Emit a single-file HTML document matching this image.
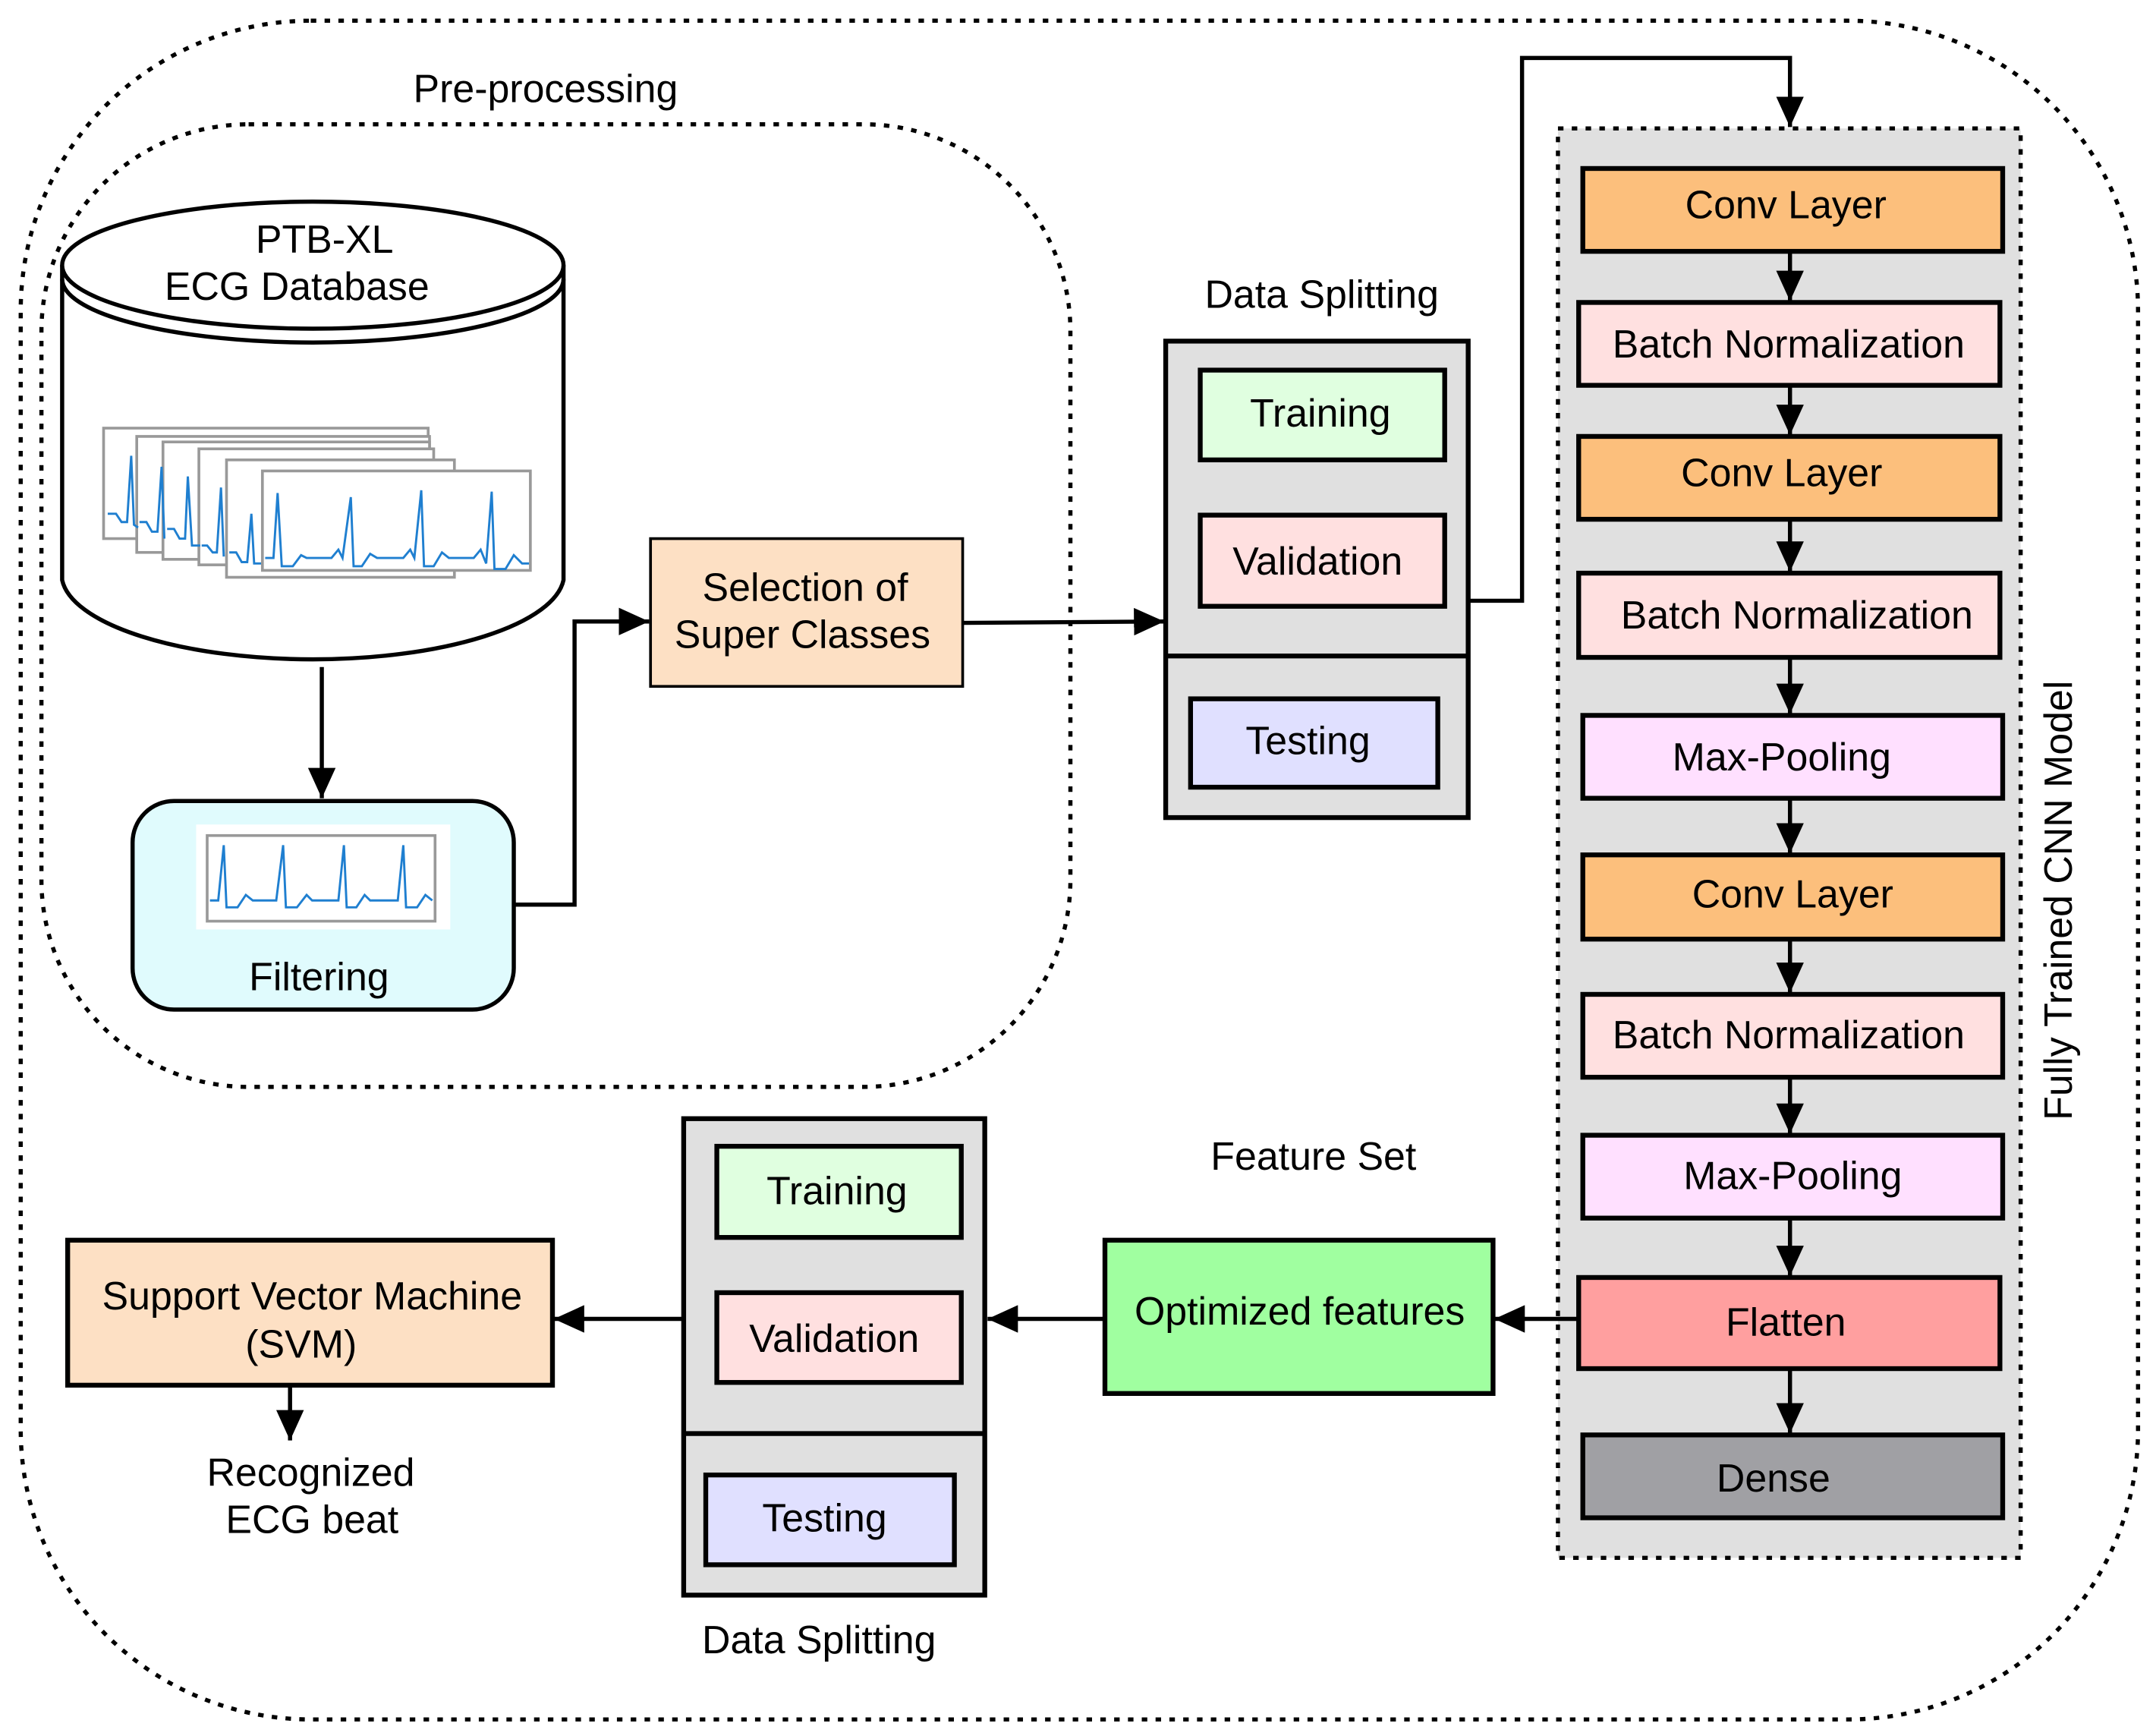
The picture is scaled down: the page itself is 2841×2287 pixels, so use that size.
<!DOCTYPE html>
<html><head><meta charset="utf-8"><style>
html,body{margin:0;padding:0;background:#fff;}
svg{display:block;}
text{font-family:"Liberation Sans",Arial,sans-serif;font-size:28.5px;fill:#000;text-anchor:middle;}
.b{stroke:#000;stroke-width:3.5;}
.l{stroke:#000;stroke-width:3;fill:none;}
.d{stroke:#000;stroke-width:3;fill:none;stroke-dasharray:4 6;}
.e{fill:#fff;stroke:#999;stroke-width:2;}
.w{fill:none;stroke:#1f7fd0;stroke-width:1.6;}
</style></head><body>
<svg width="2841" height="2287" viewBox="0 0 1561 1257" preserveAspectRatio="none" xmlns="http://www.w3.org/2000/svg">
<defs>
<marker id="A" markerWidth="22" markerHeight="20" refX="22" refY="10" orient="auto" markerUnits="userSpaceOnUse"><path d="M0,0 L22,10 L0,20z" fill="#000"/></marker></defs>
<rect width="1561" height="1257" fill="#fff"/>
<rect x="15" y="15" width="1533" height="1230" rx="210" class="d"/>
<rect x="30" y="90" width="745" height="697" rx="150" class="d"/>
<text x="395" y="74">Pre-processing</text>
<!-- cylinder -->
<path d="M45,192 L45,420 A182,62 0 0 0 408,420 L408,192" class="l" style="fill:#fff"/>
<ellipse cx="226.5" cy="192" rx="181.5" ry="46" class="l" style="fill:#fff"/>
<path d="M45,202 A181.5,46 0 0 0 408,202" class="l" stroke-width="2"/>
<text x="235" y="183">PTB-XL</text>
<text x="215" y="217">ECG  Database</text>
<g>
<rect x="75" y="310" width="235" height="80" class="e"/>
<rect x="99" y="316" width="212" height="84" class="e"/>
<rect x="118" y="320" width="193" height="85" class="e"/>
<rect x="144" y="325" width="170" height="84" class="e"/>
<rect x="164" y="333" width="165" height="85" class="e"/>
<rect x="190" y="341" width="194" height="72" class="e"/>
<path class="w" d="M78,372 L84,372 L88,378 L92,378 L95,330 L97,380 L100,382"/>
<path class="w" d="M101,378 L106,378 L110,385 L114,385 L117,338 L119,390"/>
<path class="w" d="M121,383 L126,383 L130,390 L134,390 L136,345 L139,395 L145,395"/>
<path class="w" d="M146,395 L150,395 L154,400 L157,400 L160,353 L162,403"/>
<path class="w" d="M166,400 L171,400 L175,407 L179,407 L182,372 L184,408 L189,408"/>
<path class="w" d="M192,404 L198,404 L201,357 L204,410 L212,410 L218,402 L222,404 L240,404 L245,398 L248,404 L254,360 L256,410 L262,410 L268,401 L273,404 L292,404 L297,398 L300,404 L305,355 L307,410 L314,410 L320,400 L325,404 L343,404 L348,398 L352,408 L356,356 L358,412 L366,412 L372,402 L378,408 L383,408"/>
</g>
<line x1="233" y1="483" x2="233" y2="578" class="l" marker-end="url(#A)"/>
<rect x="96" y="580" width="276" height="151" rx="30" class="l" style="fill:#e0fbfd"/>
<rect x="142" y="597" width="184" height="76" fill="#fff"/>
<rect x="150" y="605" width="165" height="62" class="e"/>
<path class="w" d="M152,652 L158,652 L162,612 L164,657 L172,657 L178,648 L183,652 L200,652 L205,612 L207,657 L215,657 L222,648 L226,652 L245,652 L249,612 L251,657 L258,657 L264,648 L268,652 L288,652 L292,612 L294,657 L302,657 L308,648 L313,652"/>
<text x="231" y="717">Filtering</text>
<path d="M372,655 L416,655 L416,450 L470,450" class="l" marker-end="url(#A)"/>
<rect x="471" y="390" width="226" height="107" fill="#fde0c4" stroke="#000" stroke-width="2"/>
<text x="583" y="435">Selection of</text>
<text x="581" y="469">Super Classes</text>
<line x1="697" y1="451" x2="843" y2="450" class="l" marker-end="url(#A)"/>
<!-- data splitting 1 -->
<text x="957" y="223">Data Splitting</text>
<rect x="844" y="247" width="219" height="345" fill="#e0e0e0" class="b"/>
<line x1="844" y1="475" x2="1063" y2="475" class="b"/>
<rect x="869" y="268" width="177" height="65" fill="#e0ffe0" class="b"/>
<text x="956" y="309">Training</text>
<rect x="869" y="373" width="177" height="66" fill="#ffe0e0" class="b"/>
<text x="954" y="416">Validation</text>
<rect x="862" y="506" width="179" height="64" fill="#e0e0ff" class="b"/>
<text x="947" y="546">Testing</text>
<path d="M1063,435 L1102,435 L1102,42 L1296,42 L1296,92" class="l" marker-end="url(#A)"/>
<!-- CNN -->
<rect x="1128" y="93" width="335" height="1035" class="d" style="fill:#e0e0e0"/>
<g class="b">
<rect x="1146" y="122" width="304" height="60" fill="#fcbf7c"/>
<rect x="1143" y="219" width="305" height="60" fill="#ffe0e0"/>
<rect x="1143" y="316" width="305" height="60" fill="#fcbf7c"/>
<rect x="1143" y="415" width="305" height="61" fill="#ffe0e0"/>
<rect x="1146" y="518" width="304" height="60" fill="#ffe0ff"/>
<rect x="1146" y="619" width="304" height="61" fill="#fcbf7c"/>
<rect x="1146" y="720" width="304" height="60" fill="#ffe0e0"/>
<rect x="1146" y="822" width="304" height="60" fill="#ffe0ff"/>
<rect x="1143" y="925" width="305" height="66" fill="#ff9f9f"/>
<rect x="1146" y="1039" width="304" height="60" fill="#a0a0a4"/>
</g>
<g class="l">
<line x1="1296" y1="182" x2="1296" y2="218" marker-end="url(#A)"/>
<line x1="1296" y1="279" x2="1296" y2="315" marker-end="url(#A)"/>
<line x1="1296" y1="376" x2="1296" y2="414" marker-end="url(#A)"/>
<line x1="1296" y1="476" x2="1296" y2="517" marker-end="url(#A)"/>
<line x1="1296" y1="578" x2="1296" y2="618" marker-end="url(#A)"/>
<line x1="1296" y1="680" x2="1296" y2="719" marker-end="url(#A)"/>
<line x1="1296" y1="780" x2="1296" y2="821" marker-end="url(#A)"/>
<line x1="1296" y1="882" x2="1296" y2="924" marker-end="url(#A)"/>
<line x1="1296" y1="991" x2="1296" y2="1038" marker-end="url(#A)"/>
</g>
<text x="1293" y="158">Conv Layer</text>
<text x="1295" y="259">Batch  Normalization</text>
<text x="1290" y="352">Conv Layer</text>
<text x="1301" y="455">Batch  Normalization</text>
<text x="1290" y="558">Max-Pooling</text>
<text x="1298" y="657">Conv Layer</text>
<text x="1295" y="759">Batch  Normalization</text>
<text x="1298" y="861">Max-Pooling</text>
<text x="1293" y="967">Flatten</text>
<text x="1284" y="1080">Dense</text>
<text transform="translate(1500,652) rotate(-90)">Fully Trained CNN Model</text>
<!-- bottom -->
<line x1="1143" y1="955" x2="1082" y2="955" class="l" marker-end="url(#A)"/>
<text x="951" y="847">Feature Set</text>
<rect x="800" y="898" width="281" height="111" fill="#a0ffa0" class="b"/>
<text x="941" y="959">Optimized features</text>
<line x1="800" y1="955" x2="715" y2="955" class="l" marker-end="url(#A)"/>
<rect x="495" y="810" width="218" height="345" fill="#e0e0e0" class="b"/>
<line x1="495" y1="1038" x2="713" y2="1038" class="b"/>
<rect x="519" y="830" width="177" height="66" fill="#e0ffe0" class="b"/>
<text x="606" y="872">Training</text>
<rect x="519" y="936" width="177" height="65" fill="#ffe0e0" class="b"/>
<text x="604" y="979">Validation</text>
<rect x="511" y="1068" width="180" height="65" fill="#e0e0ff" class="b"/>
<text x="597" y="1109">Testing</text>
<text x="593" y="1197">Data Splitting</text>
<line x1="495" y1="955" x2="401" y2="955" class="l" marker-end="url(#A)"/>
<rect x="49" y="898" width="351" height="105" fill="#fde0c4" class="b"/>
<text x="226" y="948">Support Vector Machine</text>
<text x="218" y="983">(SVM)</text>
<line x1="210" y1="1003" x2="210" y2="1043" class="l" marker-end="url(#A)"/>
<text x="225" y="1076">Recognized</text>
<text x="226" y="1110">ECG beat</text>
</svg>
</body></html>
